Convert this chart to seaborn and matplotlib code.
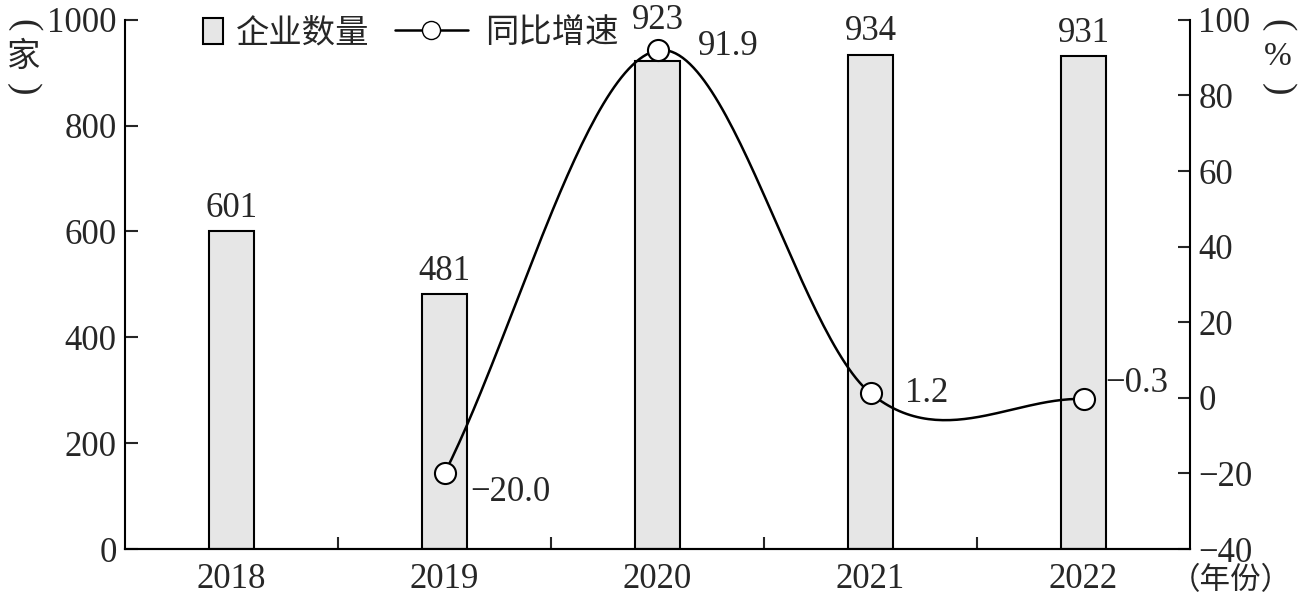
import numpy as np
import pandas as pd
import matplotlib
matplotlib.use("Agg")
import matplotlib.pyplot as plt
import seaborn as sns
from matplotlib.lines import Line2D
from matplotlib.patches import Patch
from matplotlib.ticker import FixedLocator

years = ["2018", "2019", "2020", "2021", "2022"]
counts = [601, 481, 923, 934, 931]
growth_years = ["2019", "2020", "2021", "2022"]
growth = [-20.0, 91.9, 1.2, -0.3]
growth_labels = ["\u221220.0", "91.9", "1.2", "\u22120.3"]

sns.set_theme(style="white")
plt.rcParams["font.family"] = ["Liberation Serif", "Noto Sans CJK SC"]
plt.rcParams["axes.unicode_minus"] = True

FS = 25
CJK_FS = 24

fig = plt.figure(figsize=(13, 6), dpi=100)
ax = fig.add_axes([0.0962, 0.085, 0.8192, 0.882])

df = pd.DataFrame({"year": years, "count": counts})
sns.barplot(data=df, x="year", y="count", ax=ax, color="#e6e6e6",
            edgecolor="black", linewidth=1.5, width=0.21, saturation=1)
ax.set_xlim(-0.5, len(years) - 0.5)
ax.set_ylim(0, 1000)
ax.set_yticks(range(0, 1001, 200))
ax.set_xlabel("")
ax.set_ylabel("")
# 2020 label sits above the growth marker
bar_lab_off = [12, 12, 45, 12, 12]
for i, v in enumerate(counts):
    ax.text(i, v + bar_lab_off[i], str(v), ha="center", va="bottom", fontsize=FS)

# right axis for growth
ax2 = ax.twinx()
ax2.set_ylim(-40, 100)
ax2.set_yticks(range(-40, 101, 20))
ax2.set_yticklabels([f"{t}".replace("-", "\u2212") for t in range(-40, 101, 20)])

# smooth curve through the points (Catmull-Rom)
xs = np.array([years.index(y) for y in growth_years], dtype=float)
ys = np.array(growth)
px = np.concatenate([[2 * xs[0] - xs[1]], xs, [2 * xs[-1] - xs[-2]]])
py = np.concatenate([[2 * ys[0] - ys[1]], ys, [2 * ys[-1] - ys[-2]]])
cx, cy = [], []
t = np.linspace(0, 1, 60)
for k in range(1, len(px) - 2):
    p0, p1, p2, p3 = [np.array([px[j], py[j]]) for j in range(k - 1, k + 3)]
    for tt in t:
        pt = 0.5 * ((2 * p1) + (-p0 + p2) * tt
                    + (2 * p0 - 5 * p1 + 4 * p2 - p3) * tt ** 2
                    + (-p0 + 3 * p1 - 3 * p2 + p3) * tt ** 3)
        cx.append(pt[0])
        cy.append(pt[1])
ax2.plot(cx, cy, color="black", linewidth=1.8, zorder=3)
ax2.scatter(xs, ys, s=230, facecolor="white", edgecolor="black",
            linewidth=1.5, zorder=4)

offsets = [(0.12, -5), (0.19, 1), (0.16, 0), (0.10, 4)]
for (x, y, lab, (dx, dy)) in zip(xs, ys, growth_labels, offsets):
    ax2.text(x + dx, y + dy, lab, ha="left", va="center", fontsize=FS)

# spines and ticks
for a in (ax, ax2):
    for s in a.spines.values():
        s.set_visible(False)
    a.spines["bottom"].set_visible(True)
ax.spines["left"].set_visible(True)
ax2.spines["right"].set_visible(True)
for a in (ax, ax2):
    for s in a.spines.values():
        s.set_color("black")
        s.set_linewidth(1.5)

ax.tick_params(axis="y", direction="in", length=9, width=1.5, labelsize=FS,
               left=True, pad=6)
ax2.tick_params(axis="y", direction="in", length=9, width=1.5, labelsize=FS,
                right=True, pad=6)
ax.tick_params(axis="x", which="major", length=0, labelsize=FS, pad=10)
ax.xaxis.set_minor_locator(FixedLocator(np.arange(0.5, len(years) - 0.5, 1)))
ax.tick_params(axis="x", which="minor", direction="in", length=9, width=1.5,
               bottom=True)

# vertical axis unit labels: parentheses turned on their side
def vertical_unit(x, unit):
    fig.text(x, 0.958, "(", rotation=-90, ha="center", va="center",
             fontsize=27, fontweight="light")
    fig.text(x, 0.905, unit, ha="center", va="center", fontsize=CJK_FS)
    fig.text(x, 0.852, ")", rotation=-90, ha="center", va="center",
             fontsize=27, fontweight="light")

vertical_unit(0.018, "家")
vertical_unit(0.983, "%")
fig.text(0.947, 0.03, "（年份）", ha="center", va="center", fontsize=22)

leg1 = ax.legend([Patch(facecolor="#e6e6e6", edgecolor="black", linewidth=1.5)],
                 ["企业数量"], loc="upper left", bbox_to_anchor=(0.045, 1.06),
                 frameon=False, fontsize=CJK_FS, handlelength=0.6,
                 handleheight=0.8, handletextpad=0.4)
ax.add_artist(leg1)
ax.legend([Line2D([0], [0], color="black", linewidth=1.8, marker="o",
                  markersize=13, markerfacecolor="white",
                  markeredgecolor="black")],
          ["同比增速"], loc="upper left", bbox_to_anchor=(0.225, 1.06),
          frameon=False, fontsize=CJK_FS, handlelength=2.2, handletextpad=0.5)

fig.savefig("out.png", dpi=100)
